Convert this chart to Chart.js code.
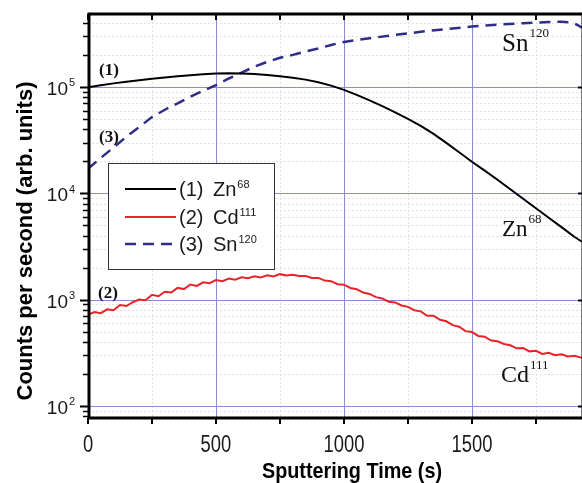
<!DOCTYPE html>
<html>
<head>
<meta charset="utf-8">
<script src="https://cdn.jsdelivr.net/npm/chart.js@4.4.1/dist/chart.umd.min.js"></script>
<style>
  html, body { margin: 0; padding: 0; overflow: hidden; background: #fff; }
  #wrap { position: relative; width: 590px; height: 483px; }
</style>
</head>
<body>
<div id="wrap"><canvas id="depth"></canvas></div>
<script>
// sputtering time (s) and counts per second
const znTime = [0, 50, 100, 150, 200, 250, 300, 350, 400, 450, 500, 550, 600, 650, 700, 750, 800, 850, 900, 950,
  1000, 1050, 1100, 1150, 1200, 1250, 1300, 1350, 1400, 1450, 1500, 1550, 1600, 1650, 1700, 1750, 1800, 1850, 1900, 1930];
const znCounts = [99000, 103500, 108000, 112000, 115500, 119500, 122500, 126000, 129000, 131500,
  133500, 134500, 134000, 132500, 129500, 126000, 122000, 117100, 110700, 102800,
  93900, 84300, 74850, 66000, 57700, 50100, 43000, 36200, 29800, 24300,
  19800, 16300, 13400, 10900, 8880, 7230, 5890, 4800, 3900, 3500];

const cdTime = [0, 25, 50, 75, 100, 125, 150, 175, 200, 225, 250, 275, 300, 325, 350, 375, 400, 425, 450, 475,
  500, 525, 550, 575, 600, 625, 650, 675, 700, 725, 750, 775, 800, 825, 850, 875, 900, 925, 950, 975,
  1000, 1025, 1050, 1075, 1100, 1125, 1150, 1175, 1200, 1225, 1250, 1275, 1300, 1325, 1350, 1375, 1400, 1425, 1450, 1475,
  1500, 1525, 1550, 1575, 1600, 1625, 1650, 1675, 1700, 1725, 1750, 1775, 1800, 1825, 1850, 1875, 1900, 1930];
const cdCounts = [720, 765, 745, 810, 795, 890, 870, 945, 1000, 985,
  1110, 1075, 1185, 1165, 1290, 1255, 1385, 1345, 1455, 1425,
  1525, 1490, 1575, 1540, 1620, 1585, 1655, 1615, 1690, 1650,
  1735, 1685, 1710, 1665, 1665, 1595, 1600, 1510, 1490, 1395,
  1380, 1285, 1250, 1165, 1130, 1055, 1025, 955, 940, 880,
  855, 795, 775, 705, 705, 645, 625, 575, 555, 505,
  495, 455, 448, 412, 405, 382, 372, 348, 350, 326,
  330, 308, 316, 300, 306, 292, 296, 283];

const snTime = [0, 50, 100, 150, 200, 250, 300, 350, 400, 450, 500, 550, 600, 650, 700, 750, 800, 850, 900, 950,
  1000, 1100, 1200, 1300, 1400, 1500, 1600, 1700, 1800, 1850, 1880, 1900, 1915, 1930];
const snCounts = [17000, 21500, 27000, 34000, 42000, 52000, 61000, 70000, 81000, 92000,
  104000, 120000, 136000, 155000, 172000, 188000, 200000, 215000, 230000, 248000,
  265000, 287000, 308000, 330000, 350000, 370000, 385000, 397000, 407000, 410000,
  405000, 395000, 380000, 360000];

// axis ticks
const xMajor = [0, 500, 1000, 1500];
const xMinor = [250, 750, 1250, 1750];
const yDecades = [100, 1000, 10000, 100000];
const yExponents = ['2', '3', '4', '5'];
const yMinorSteps = [2, 3, 4, 5, 6, 7, 8, 9];

const SANS = '"Liberation Sans", Arial, sans-serif';
const SERIF = '"Liberation Serif", "Times New Roman", serif';

function pts(xs, ys) {
  return xs.map((t, i) => ({ x: t, y: ys[i] }));
}

function seg(ctx, x1, y1, x2, y2) {
  ctx.beginPath();
  ctx.moveTo(x1, y1);
  ctx.lineTo(x2, y2);
  ctx.stroke();
}

function supText(ctx, base, sup, x, baseY, baseFont, supFont, supTop) {
  ctx.font = baseFont;
  ctx.textBaseline = 'alphabetic';
  ctx.textAlign = 'left';
  ctx.fillText(base, x, baseY);
  const w = ctx.measureText(base).width;
  ctx.font = supFont;
  ctx.textBaseline = 'top';
  ctx.fillText(sup, x + w + 1, supTop);
}

const framePlugin = {
  id: 'frame',
  beforeDatasetsDraw(chart) {
    const { ctx, chartArea: a, scales: { x, y } } = chart;
    ctx.save();
    // minor dotted grid
    ctx.strokeStyle = '#e2e2d8';
    ctx.lineWidth = 1;
    ctx.setLineDash([2, 2]);
    xMinor.forEach(v => {
      const px = Math.round(x.getPixelForValue(v)) + 0.5;
      seg(ctx, px, a.top, px, a.bottom);
    });
    yDecades.concat([10]).forEach(d => {
      yMinorSteps.forEach(m => {
        const v = d * m;
        if (v < y.min || v > y.max) return;
        const py = Math.round(y.getPixelForValue(v)) + 0.5;
        seg(ctx, a.left, py, a.right, py);
      });
    });
    // major blue grid
    ctx.setLineDash([]);
    ctx.strokeStyle = '#8b8bd6';
    xMajor.forEach(v => {
      if (v === 0) return;
      const px = Math.round(x.getPixelForValue(v)) + 0.5;
      seg(ctx, px, a.top, px, a.bottom);
    });
    yDecades.forEach(v => {
      const py = Math.round(y.getPixelForValue(v)) + 0.5;
      seg(ctx, a.left, py, a.right, py);
    });
    ctx.restore();
  },
  afterDatasetsDraw(chart) {
    const { ctx, chartArea: a, scales: { x, y } } = chart;
    ctx.save();
    ctx.strokeStyle = '#000';
    ctx.fillStyle = '#000';

    // frame
    ctx.lineWidth = 3;
    ctx.strokeRect(a.left + 1, a.top, a.right - a.left - 1, a.bottom - a.top);

    // x ticks (bottom outward, top inward)
    ctx.lineWidth = 2;
    xMajor.concat(xMinor).forEach(v => {
      const px = Math.round(x.getPixelForValue(v));
      seg(ctx, px, a.bottom, px, a.bottom + 6);
      seg(ctx, px, a.top, px, a.top + 6);
    });
    // y ticks
    yDecades.forEach(v => {
      const py = Math.round(y.getPixelForValue(v)) + 0.5;
      seg(ctx, a.left - 8, py, a.left + 1, py);
      seg(ctx, a.right - 5, py, a.right, py);
    });
    ctx.lineWidth = 1.5;
    yDecades.concat([10]).forEach(d => {
      yMinorSteps.forEach(m => {
        const v = d * m;
        if (v < y.min || v > y.max) return;
        const py = Math.round(y.getPixelForValue(v)) + 0.5;
        seg(ctx, a.left - 5, py, a.left + 1, py);
      });
    });

    // tick labels
    ctx.fillStyle = '#1a1a1a';
    yDecades.forEach((v, i) => {
      const py = y.getPixelForValue(v);
      ctx.font = '19px ' + SANS;
      ctx.textAlign = 'right';
      ctx.textBaseline = 'alphabetic';
      ctx.fillText('10', 68, py + 8);
      ctx.font = '11px ' + SANS;
      ctx.textAlign = 'left';
      ctx.textBaseline = 'top';
      ctx.fillText(yExponents[i], 69, py - 9);
    });
    xMajor.forEach(v => {
      const px = x.getPixelForValue(v);
      ctx.save();
      ctx.translate(px, 452);
      ctx.scale(0.8, 1);
      ctx.font = '23px ' + SANS;
      ctx.textAlign = 'center';
      ctx.textBaseline = 'alphabetic';
      ctx.fillText(String(v), 0, 0);
      ctx.restore();
    });

    // axis titles
    ctx.fillStyle = '#000';
    ctx.save();
    ctx.translate(352, 478);
    ctx.scale(0.9, 1);
    ctx.font = 'bold 22px ' + SANS;
    ctx.textAlign = 'center';
    ctx.textBaseline = 'alphabetic';
    ctx.fillText('Sputtering Time (s)', 0, 0);
    ctx.restore();
    ctx.save();
    ctx.translate(32, 241);
    ctx.rotate(-Math.PI / 2);
    ctx.font = 'bold 22px ' + SANS;
    ctx.textAlign = 'center';
    ctx.textBaseline = 'alphabetic';
    ctx.fillText('Counts per second (arb. units)', 0, 0);
    ctx.restore();

    // curve labels
    ctx.fillStyle = '#111';
    ctx.font = 'bold 17px ' + SERIF;
    ctx.textAlign = 'left';
    ctx.textBaseline = 'middle';
    ctx.fillText('(1)', 99, 71);
    ctx.fillText('(3)', 99, 138);
    ctx.fillText('(2)', 98, 294);
    supText(ctx, 'Sn', '120', 502, 51, '25px ' + SERIF, '13px ' + SERIF, 27);
    supText(ctx, 'Zn', '68', 502, 236, '23px ' + SERIF, '13px ' + SERIF, 213);
    supText(ctx, 'Cd', '111', 501, 382, '24px ' + SERIF, '13px ' + SERIF, 359);

    // legend
    ctx.fillStyle = '#fff';
    ctx.fillRect(108.5, 163.5, 166, 106);
    ctx.strokeStyle = '#333';
    ctx.lineWidth = 1;
    ctx.strokeRect(108.5, 163.5, 166, 106);
    const rows = [
      { ds: 0, num: '(1)', el: 'Zn', iso: '68', y: 189 },
      { ds: 1, num: '(2)', el: 'Cd', iso: '111', y: 217 },
      { ds: 2, num: '(3)', el: 'Sn', iso: '120', y: 244 }
    ];
    rows.forEach(r => {
      const d = chart.data.datasets[r.ds];
      ctx.strokeStyle = d.borderColor;
      ctx.lineWidth = d.borderWidth;
      ctx.setLineDash(d.borderDash || []);
      seg(ctx, 125, r.y, 176, r.y);
      ctx.setLineDash([]);
      ctx.fillStyle = '#1a1a1a';
      ctx.font = '20px ' + SANS;
      ctx.textAlign = 'left';
      ctx.textBaseline = 'alphabetic';
      ctx.fillText(r.num, 179, r.y + 7);
      supText(ctx, r.el, r.iso, 213, r.y + 7, '20px ' + SANS, '11px ' + SANS, r.y - 10);
    });
    ctx.restore();
  }
};

new Chart(document.getElementById('depth'), {
  type: 'line',
  data: {
    datasets: [
      { label: 'Zn68', data: pts(znTime, znCounts), borderColor: '#000000', borderWidth: 2 },
      { label: 'Cd111', data: pts(cdTime, cdCounts), borderColor: '#e8242a', borderWidth: 2 },
      { label: 'Sn120', data: pts(snTime, snCounts), borderColor: '#2e2e88', borderWidth: 2.5, borderDash: [11, 7] }
    ]
  },
  options: {
    responsive: true,
    maintainAspectRatio: false,
    animation: false,
    devicePixelRatio: 1,
    layout: { padding: { top: 14, right: 7, left: 0, bottom: 0 } },
    elements: { point: { radius: 0 }, line: { tension: 0, fill: false } },
    plugins: { legend: { display: false }, tooltip: { enabled: false } },
    scales: {
      x: {
        type: 'linear',
        min: 0,
        max: 1934,
        grid: { display: false },
        border: { display: false },
        ticks: { display: false },
        afterFit(s) { s.height = 65; }
      },
      y: {
        type: 'logarithmic',
        min: 77,
        max: 485000,
        grid: { display: false },
        border: { display: false },
        ticks: { display: false },
        afterFit(s) { s.width = 88; }
      }
    }
  },
  plugins: [framePlugin]
});
</script>
</body>
</html>
